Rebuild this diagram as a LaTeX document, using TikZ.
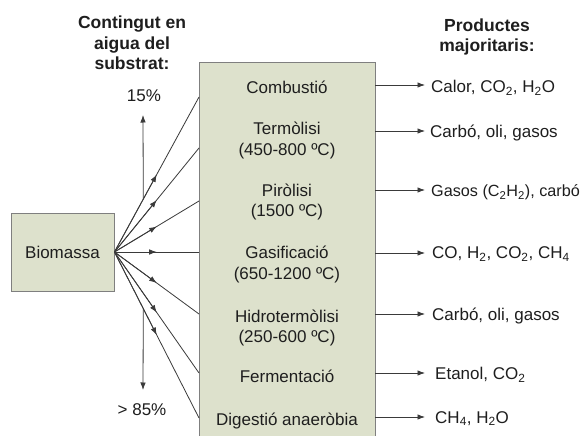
\documentclass[tikz,border=0pt]{standalone}
\usepackage{fontspec}
\setmainfont{Liberation Sans}
\usetikzlibrary{arrows.meta,calc}
\definecolor{boxfill}{HTML}{DDE1CC}
\definecolor{boxline}{HTML}{7F7F7F}
\definecolor{conncol}{HTML}{3A3A3A}
\definecolor{txtcol}{HTML}{1E1E1E}
\begin{document}
\begin{tikzpicture}[x=1pt,y=-1pt,
  every node/.style={text=txtcol, font=\fontsize{17}{20}\selectfont, inner sep=0pt},
  lbl/.style={anchor=base},
  prod/.style={anchor=base west},
  ttl/.style={anchor=base, font=\fontsize{17.5}{20}\selectfont\bfseries},
  connline/.style={draw=conncol, line width=0.8pt},
  arrowtip/.style={-{Latex[length=7.5pt,width=5.5pt]}},
  boxborder/.style={draw=boxline, line width=0.9pt},
]
\useasboundingbox (0,0) rectangle (587,436);
\fill[white] (0,0) rectangle (587,436);

% main process box (open at the bottom edge of the picture)
\fill[boxfill] (199,62) rectangle (375,436);
\draw[boxborder] (199,436) -- (199,62) -- (375,62) -- (375,436);

% biomass box
\node[boxborder, fill=boxfill, minimum width=103pt, minimum height=78pt] (bio) at (62.5,252) {Biomassa};

% titles
\node[ttl] (tl1) at (132,29) {Contingut en};
\node[ttl] (tl2) at (132,49.5) {aigua del};
\node[ttl] (tl3) at (132,70) {substrat:};
\node[ttl] (tr1) at (487,32) {Productes};
\node[ttl] (tr2) at (487,52) {majoritaris:};
\node[lbl] (p15) at (144,102) {15\%};
\node[lbl] (p85) at (142,415) {> 85\%};

% process labels
\node[lbl] (c1) at (287,94) {Combustió};
\node[lbl] (c2a) at (287,135) {Termòlisi};
\node[lbl] (c2b) at (287,155) {(450-800 ºC)};
\node[lbl] (c3a) at (287,196.5) {Piròlisi};
\node[lbl] (c3b) at (287,216) {(1500 ºC)};
\node[lbl] (c4a) at (287,258.5) {Gasificació};
\node[lbl] (c4b) at (287,279) {(650-1200 ºC)};
\node[lbl] (c5a) at (287,322) {Hidrotermòlisi};
\node[lbl] (c5b) at (287,342) {(250-600 ºC)};
\node[lbl] (c6) at (287,382) {Fermentació};
\node[lbl] (c7) at (287,425) {Digestió anaeròbia};

% connection points on the left edge of the process box
\coordinate (L1) at (199,97);
\coordinate (L2) at (199,148);
\coordinate (L3) at (199,201);
\coordinate (L4) at (199,252);
\coordinate (L5) at (199,314);
\coordinate (L6) at (199,373);
\coordinate (L7) at (199,418);

\foreach \i in {1,...,7}{
  \draw[connline] (bio.east) -- (L\i);
  \draw[connline, arrowtip] (bio.east) -- ($(bio.east)!0.5!(L\i)$);
}

% water content axis
\coordinate (vtop) at ($(bio.east)!0.3412!(L1)$);
\coordinate (vtopend) at (143,115);
\coordinate (vbot) at ($(bio.east)!0.3412!(L7)$);
\coordinate (vbotend) at (143,390);
\draw[connline, arrowtip] (vtop) -- (vtopend);
\draw[connline, arrowtip] (vbot) -- (vbotend);

% products
\node[prod, inner xsep=6pt] (q1) at (425,93) {Calor, CO\textsubscript{2}, H\textsubscript{2}O};
\node[prod, inner xsep=5pt] (q2) at (425,137.5) {Carbó, oli, gasos};
\node[prod, inner xsep=6pt, font=\fontsize{16.2}{20}\selectfont] (q3) at (425,196.5) {Gasos (C\textsubscript{2}H\textsubscript{2}), carbó};
\node[prod, inner xsep=7pt] (q4) at (425,258.5) {CO, H\textsubscript{2}, CO\textsubscript{2}, CH\textsubscript{4}};
\node[prod, inner xsep=7pt] (q5) at (425,320.5) {Carbó, oli, gasos};
\node[prod, inner xsep=10pt] (q6) at (425,379.5) {Etanol, CO\textsubscript{2}};
\node[prod, inner xsep=10pt] (q7) at (425,423) {CH\textsubscript{4}, H\textsubscript{2}O};

\coordinate (R1) at (375,85);
\coordinate (R2) at (375,131);
\coordinate (R3) at (375,190);
\coordinate (R4) at (375,253);
\coordinate (R5) at (375,314);
\coordinate (R6) at (375,373);
\coordinate (R7) at (375,417);

\foreach \i in {1,...,7}{
  \draw[connline, arrowtip] (R\i) -- (R\i -| q\i.west);
}
\end{tikzpicture}
\end{document}
